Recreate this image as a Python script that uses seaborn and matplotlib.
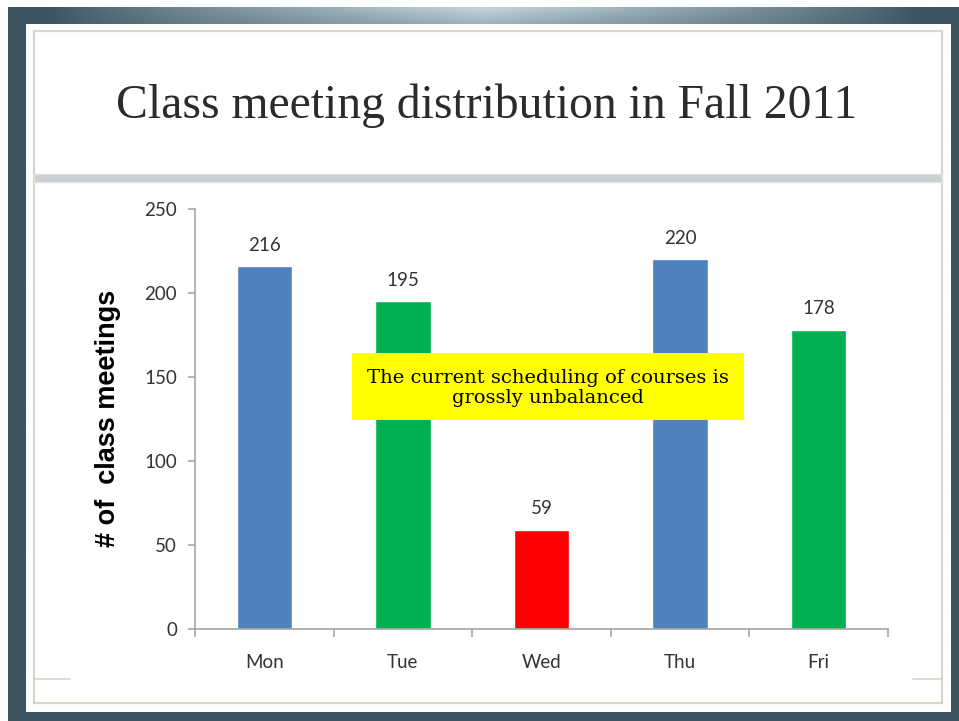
import numpy as np
import matplotlib
matplotlib.use("Agg")
import matplotlib.pyplot as plt
from matplotlib.patches import Rectangle
from matplotlib.lines import Line2D
import seaborn as sns

days = ["Mon", "Tue", "Wed", "Thu", "Fri"]
meetings = [216, 195, 59, 220, 178]
bar_colors = ["#4f81bd", "#00b050", "#ff0000", "#4f81bd", "#00b050"]
y_ticks = [0, 50, 100, 150, 200, 250]
title = "Class meeting distribution in Fall 2011"
ylabel = "# of  class meetings"
note = "The current scheduling of courses is\ngrossly unbalanced"

sns.set_theme(style="white")
plt.rcParams["font.family"] = ["Lato", "DejaVu Sans"]

W, H = 959, 721
fig = plt.figure(figsize=(W / 100, H / 100), dpi=100)
fig.patch.set_facecolor("white")

def fx(x):
    return x / W

def fy(y):
    return 1 - y / H

# background gradient frame
bg = fig.add_axes([0, 0, 1, 1], zorder=-10)
bg.set_axis_off()
xs = np.linspace(0, 1, 400)
ys = np.linspace(0, 1, 300)
X, Y = np.meshgrid(xs, ys)
dark = np.array([0x3c, 0x55, 0x61]) / 255
light = np.array([0xc4, 0xd4, 0xdc]) / 255
t = np.clip(1 - np.abs(X - 0.5) * 2.2, 0, 1) ** 0.8
t = t * np.clip(1 - Y * 12, 0, 1)
img = dark[None, None, :] * (1 - t[..., None]) + light[None, None, :] * t[..., None]
bg.imshow(img, extent=[fx(8), fx(959), fy(721), fy(7)], aspect="auto")
bg.set_xlim(0, 1)
bg.set_ylim(0, 1)

# white slide
fig.patches.append(Rectangle((fx(26), fy(712)), fx(951) - fx(26), fy(24) - fy(712),
                             transform=fig.transFigure, facecolor="white", edgecolor="none", zorder=-5))
# inner frame
fig.patches.append(Rectangle((fx(34), fy(703)), fx(942) - fx(34), fy(31) - fy(703),
                             transform=fig.transFigure, facecolor="none", edgecolor="#d6d6ce",
                             linewidth=1.6, zorder=-4))
# title separator band
fig.patches.append(Rectangle((fx(34), fy(182)), fx(942) - fx(34), fy(174) - fy(182),
                             transform=fig.transFigure, facecolor="#c9d1d4", edgecolor="#e2e2da",
                             linewidth=1, zorder=-4))
# small bottom lines
fig.lines.append(Line2D([fx(34), fx(70)], [fy(679), fy(679)], transform=fig.transFigure,
                        color="#d6d6ce", linewidth=1.2))
fig.lines.append(Line2D([fx(913), fx(942)], [fy(679), fy(679)], transform=fig.transFigure,
                        color="#d6d6ce", linewidth=1.2))

fig.text(fx(487), fy(106), title, ha="center", va="center", fontsize=34.3,
         family=["Liberation Serif"], color="#2b2b2b")

ax = fig.add_axes([fx(195), fy(629), fx(888) - fx(195), fy(209) - fy(629)])
ax.set_facecolor("none")
sns.barplot(x=days, y=meetings, hue=days, palette=bar_colors, legend=False,
            width=0.4, saturation=1, ax=ax)
ax.set_ylim(0, 250)
ax.set_xlim(-0.5, 4.5)
ax.set_yticks(y_ticks)
ax.set_yticklabels([str(v) for v in y_ticks])
for sp in ["top", "right"]:
    ax.spines[sp].set_visible(False)
for sp in ["left", "bottom"]:
    ax.spines[sp].set_color("#a6a6a6")
    ax.spines[sp].set_linewidth(1.2)
ax.tick_params(axis="y", which="major", left=True, length=5, width=1.2, color="#a6a6a6",
               labelsize=13.5, labelcolor="#333333", pad=8)
ax.set_xticks(range(len(days)))
ax.set_xticklabels(days)
ax.tick_params(axis="x", which="major", bottom=False, labelsize=13.5, labelcolor="#333333", pad=12)
ax.set_xticks(np.arange(-0.5, 5, 1), minor=True)
ax.tick_params(axis="x", which="minor", bottom=True, length=6, width=1.2, color="#a6a6a6",
               direction="out")
ax.set_xlabel("")
ax.set_ylabel("")
for p in ax.patches:
    h = p.get_height()
    if np.isfinite(h) and h > 0:
        ax.annotate(f"{h:.0f}", (p.get_x() + p.get_width() / 2, h), xytext=(0, 9),
                    textcoords="offset points", ha="center", va="bottom",
                    fontsize=13.5, color="#333333")

fig.text(fx(108), fy(418), ylabel, rotation=90, ha="center", va="center", fontsize=19.5,
         fontweight="bold", family=["Liberation Sans"], color="black")

# annotation box
fig.patches.append(Rectangle((fx(352), fy(420)), fx(744) - fx(352), fy(353) - fy(420),
                             transform=fig.transFigure, facecolor="#ffff00", edgecolor="none", zorder=5))
fig.text(fx(548), fy(388), note, ha="center", va="center", fontsize=14, linespacing=1.2,
         family=["DejaVu Serif"], color="black", zorder=6)

fig.savefig("out.png", dpi=100)
